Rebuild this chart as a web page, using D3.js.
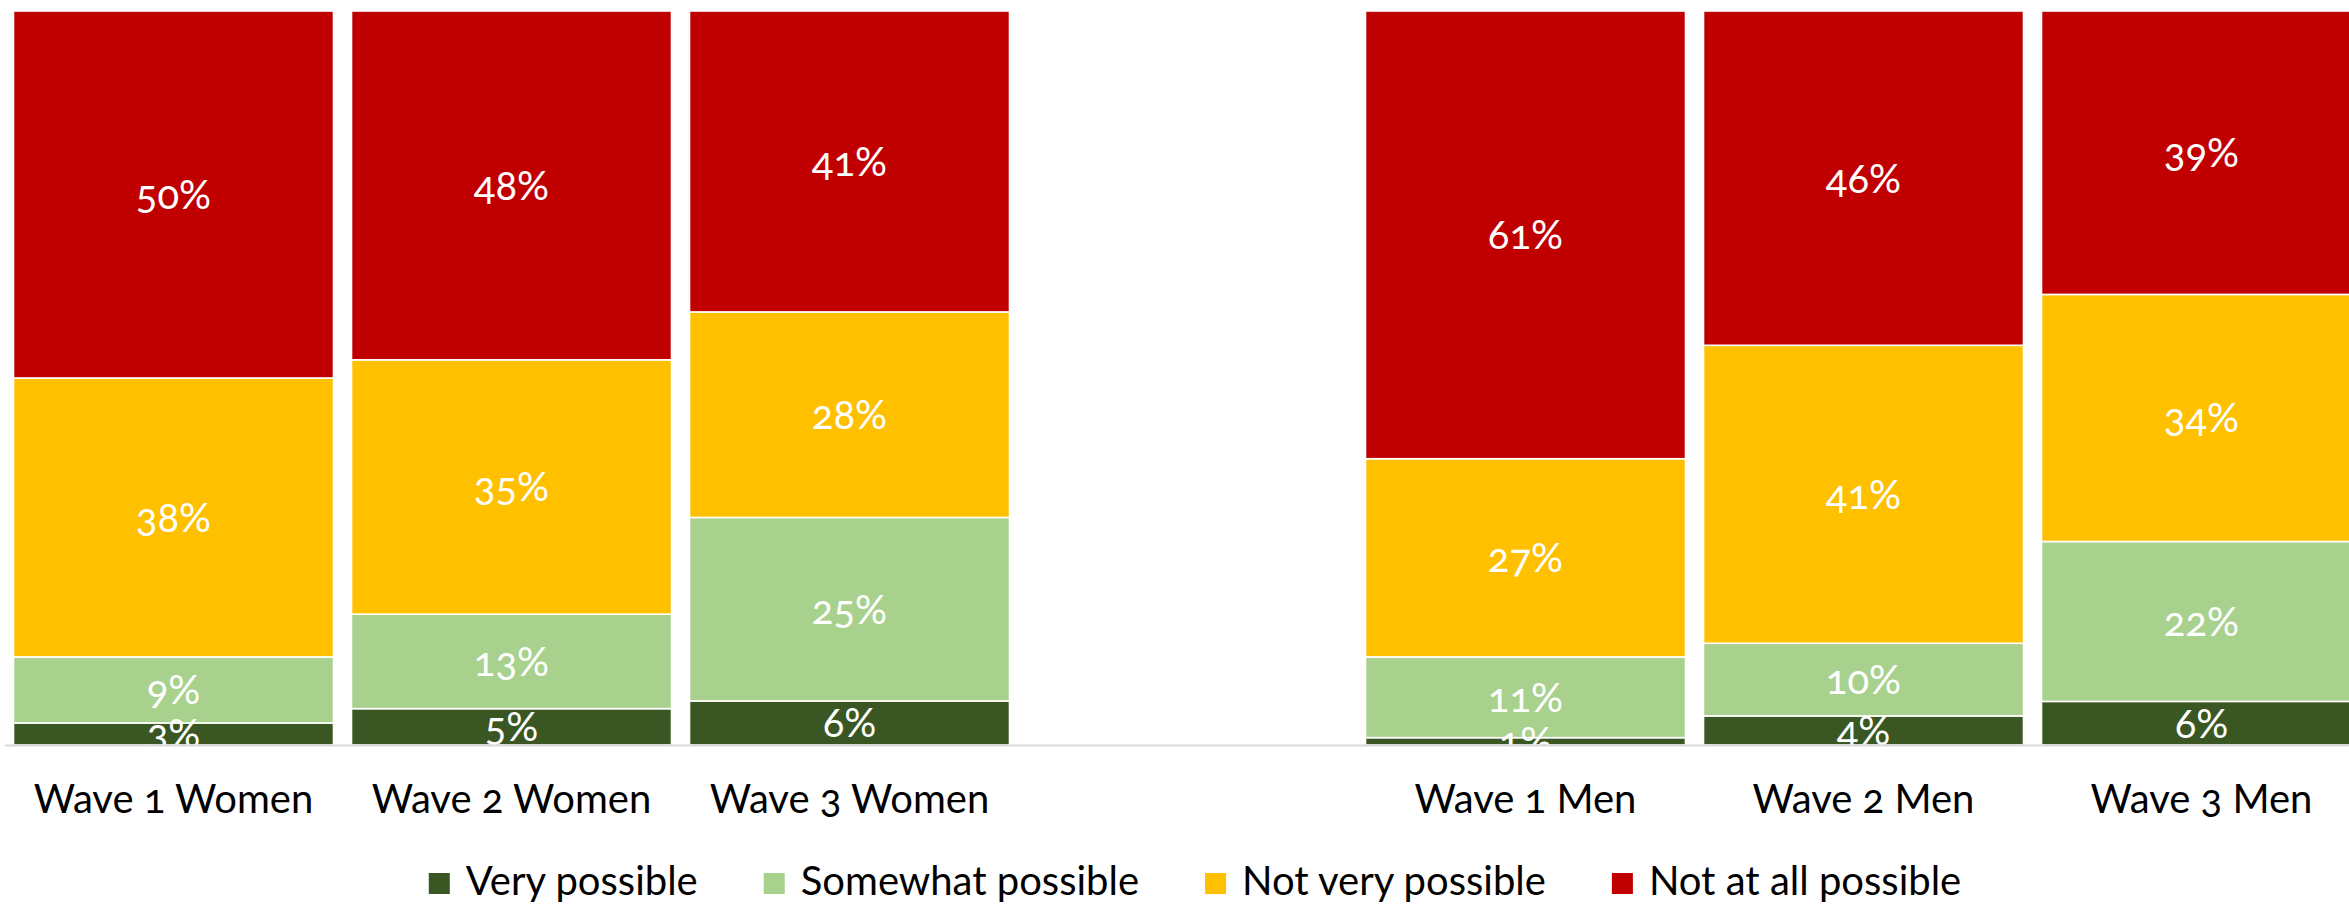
<!DOCTYPE html>
<html>
<head>
<meta charset="utf-8">
<script src="https://cdn.jsdelivr.net/npm/d3@7/dist/d3.min.js"></script>
<style>
  html, body { margin: 0; padding: 0; background: #fff; }
  svg { display: block; }
  text { font-family: Lato, "Open Sans", sans-serif; font-variant-numeric: oldstyle-nums; }
</style>
</head>
<body>
<svg id="chart" width="2349" height="904"></svg>
<script>
// Categories along the x axis; the blank entry separates women from men.
const categories = ["Wave 1 Women", "Wave 2 Women", "Wave 3 Women", "", "Wave 1 Men", "Wave 2 Men", "Wave 3 Men"];
const groups = ["Wave 1 Women", "Wave 2 Women", "Wave 3 Women", "Wave 1 Men", "Wave 2 Men", "Wave 3 Men"];

// Response shares (%) per group, one array per answer.
const veryPossible      = [3, 5, 6, 1, 4, 6];
const somewhatPossible  = [9, 13, 25, 11, 10, 22];
const notVeryPossible   = [38, 35, 28, 27, 41, 34];
const notAtAllPossible  = [50, 48, 41, 61, 46, 39];

const seriesNames  = ["Very possible", "Somewhat possible", "Not very possible", "Not at all possible"];
const seriesColors = ["#3a5723", "#a9d18e", "#ffc000", "#c00000"];

const rows = groups.map((g, i) => ({
  group: g,
  "Very possible": veryPossible[i],
  "Somewhat possible": somewhatPossible[i],
  "Not very possible": notVeryPossible[i],
  "Not at all possible": notAtAllPossible[i]
}));

const svg = d3.select("#chart");
const plotTop = 11, plotBottom = 745;
const fontSize = 40;

const step = 338;
const x = d3.scaleBand()
  .domain(categories)
  .range([4.5, 4.5 + step * categories.length])
  .paddingInner(18 / step)
  .paddingOuter(9 / step);

const y = d3.scaleLinear().domain([0, 1]).range([plotBottom, plotTop]);
const color = d3.scaleOrdinal().domain(seriesNames).range(seriesColors);

// 100% stacked layout
const stacked = d3.stack().keys(seriesNames).offset(d3.stackOffsetExpand)(rows);

const layer = svg.append("g")
  .selectAll("g")
  .data(stacked)
  .join("g")
  .attr("fill", d => color(d.key));

layer.selectAll("rect")
  .data(d => d)
  .join("rect")
  .attr("x", d => x(d.data.group))
  .attr("width", x.bandwidth())
  .attr("y", d => y(d[1]))
  .attr("height", d => y(d[0]) - y(d[1]))
  .attr("stroke", "#fff")
  .attr("stroke-width", 1.6);

// Value labels centred in each segment
const labels = svg.append("g");
stacked.forEach(s => {
  s.forEach(d => {
    labels.append("text")
      .attr("x", x(d.data.group) + x.bandwidth() / 2)
      .attr("y", (y(d[0]) + y(d[1])) / 2)
      .attr("dy", "0.36em")
      .attr("text-anchor", "middle")
      .attr("fill", "#fff")
      .attr("font-size", fontSize)
      .text(d.data[s.key] + "%");
  });
});

// Category axis
const xAxis = svg.append("g")
  .attr("transform", `translate(0,${plotBottom})`)
  .call(d3.axisBottom(x).tickSize(0).tickPadding(0));
xAxis.select(".domain").attr("stroke", "#d9d9d9").attr("stroke-width", 2);
xAxis.attr("font-family", null).attr("font-size", null);
xAxis.selectAll("text")
  .attr("y", 68)
  .attr("dy", 0)
  .attr("font-size", fontSize)
  .attr("fill", "#000");

// Legend, centred under the plot
const legend = svg.append("g");
const items = legend.selectAll("g").data(seriesNames).join("g");
items.append("rect")
  .attr("width", 21).attr("height", 21)
  .attr("y", 873)
  .attr("fill", d => color(d));
items.append("text")
  .attr("x", 37)
  .attr("y", 895)
  .attr("font-size", fontSize)
  .attr("fill", "#000")
  .text(d => d);

const gap = 66;
const widths = [];
items.each(function () { widths.push(37 + d3.select(this).select("text").node().getComputedTextLength()); });
const total = d3.sum(widths) + gap * (widths.length - 1);
let cx = 1195 - total / 2;
items.each(function (d, i) {
  d3.select(this).attr("transform", `translate(${cx},0)`);
  cx += widths[i] + gap;
});
</script>
</body>
</html>
